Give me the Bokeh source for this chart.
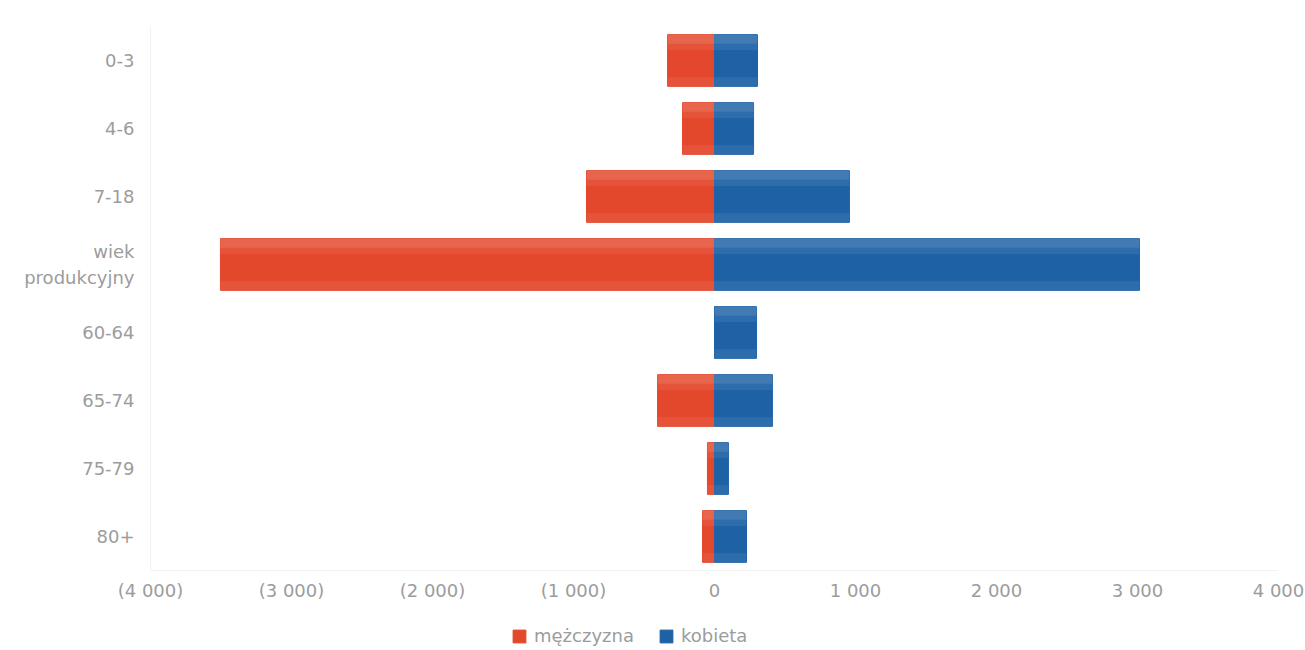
from bokeh.plotting import figure
from bokeh.layouts import column
from bokeh.models import FactorRange, FixedTicker, ColumnDataSource, Legend, LegendItem
from bokeh.transform import dodge
from bokeh.embed import file_html
from bokeh.resources import INLINE

# ---- data ----
categories = ["0-3", "4-6", "7-18", "wiek\nprodukcyjny", "60-64", "65-74", "75-79", "80+"]
men = [-333, -227, -908, -3504, 0, -404, -50, -85]      # mężczyzna (plotted to the left)
women = [305, 277, 957, 3014, 298, 411, 99, 227]        # kobieta
x_ticks = [-4000, -3000, -2000, -1000, 0, 1000, 2000, 3000, 4000]
x_tick_labels = ["(4 000)", "(3 000)", "(2 000)", "(1 000)", "0", "1 000", "2 000", "3 000", "4 000"]
series_names = ["mężczyzna", "kobieta"]

RED = "#E3482C"
BLUE = "#1E62A5"
TEXT = "#9c9c9c"
FONT = "DejaVu Sans"

src = ColumnDataSource(dict(cat=categories, men=men, women=women, zero=[0] * len(categories)))

p = figure(
    width=1305, height=610,
    y_range=FactorRange(factors=list(reversed(categories))),
    x_range=(-4000, 4000),
    output_backend="svg", toolbar_location=None,
    min_border_left=150, min_border_right=27, min_border_top=26, min_border_bottom=40,
)

p.hbar(y="cat", left="men", right="zero", height=0.76, source=src,
       fill_color=RED, line_color=RED)
p.hbar(y="cat", left="zero", right="women", height=0.76, source=src,
       fill_color=BLUE, line_color=BLUE)
# soft sheen to mimic the glossy bars: lighter top, slightly lighter bottom
for off, h, a in ((0.31, 0.13, 0.16), (0.2, 0.09, 0.07), (-0.31, 0.13, 0.07)):
    p.hbar(y=dodge("cat", off, range=p.y_range), left="men", right="zero", height=h, source=src,
           fill_color="white", fill_alpha=a, line_color=None)
    p.hbar(y=dodge("cat", off, range=p.y_range), left="zero", right="women", height=h, source=src,
           fill_color="white", fill_alpha=a, line_color=None)

p.xaxis.ticker = FixedTicker(ticks=x_ticks)
p.xaxis.major_label_overrides = {t: l for t, l in zip(x_ticks, x_tick_labels)}

for ax in (p.xaxis[0], p.yaxis[0]):
    ax.axis_line_color = "#f2f2f2"
    ax.major_tick_line_color = None
    ax.minor_tick_line_color = None
    ax.major_label_text_color = TEXT
    ax.major_label_text_font = FONT
    ax.major_label_text_font_size = "18px"
p.xaxis.major_label_standoff = 3
p.yaxis.major_label_standoff = 10

p.xgrid.grid_line_color = None
p.ygrid.grid_line_color = None
p.outline_line_color = None

# ---- legend strip below the chart (its swatch renderers sit outside the visible range) ----
lg = figure(width=1305, height=40, x_range=(0, 1), y_range=(0, 1),
            output_backend="svg", toolbar_location=None,
            x_axis_type=None, y_axis_type=None, min_border=0)
lg.xgrid.grid_line_color = None
lg.ygrid.grid_line_color = None
lg.outline_line_color = None
k_m = lg.hbar(y=[-5], left=[0], right=[1], height=0.76, fill_color=RED, line_color=RED)
k_w = lg.hbar(y=[-5], left=[0], right=[1], height=0.76, fill_color=BLUE, line_color=BLUE)

legend = Legend(
    items=[LegendItem(label=series_names[0], renderers=[k_m]),
           LegendItem(label=series_names[1], renderers=[k_w])],
    orientation="horizontal", location=(361, 4),
    label_text_color=TEXT, label_text_font=FONT, label_text_font_size="18px",
    label_height=16, glyph_width=16, glyph_height=16, spacing=24, label_standoff=7,
    border_line_color=None, background_fill_alpha=0, padding=0, margin=0,
)
lg.add_layout(legend, "center")

layout = column(p, lg, spacing=0)
open("out.html", "w").write(file_html(layout, INLINE))
